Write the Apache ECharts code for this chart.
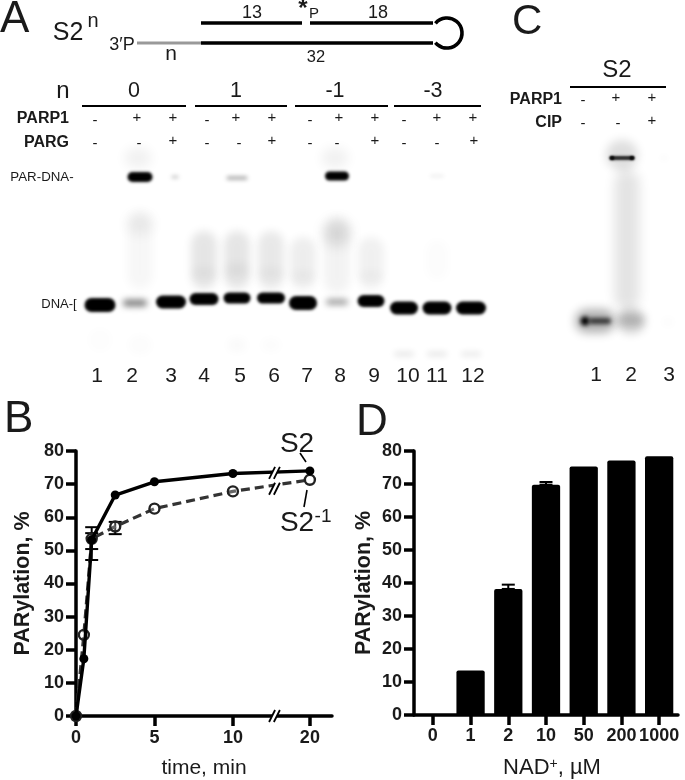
<!DOCTYPE html>
<html><head><meta charset="utf-8">
<style>html,body{margin:0;padding:0;background:#fff}#c{width:685px;height:780px}</style>
<script src="https://cdn.jsdelivr.net/npm/echarts@6/dist/echarts.min.js"></script>
</head><body><div id="c"></div>
<script>
// ---- Panel B data
const times = [0, 0.5, 1, 2.5, 5, 10, 20];
const s2Values = [0, 17.3, 53.2, 66.7, 70.7, 73.2, 74];
const s2m1Values = [0, 24.5, 53.5, 57.2, 62.6, 67.8, 71.3];
const errTimes = [1, 1, 2.5];
const errLow = [50.4, 47.1, 54.9];
const errHigh = [55.2, 57, 58.6];
const timeTicks = [0, 5, 10, 20];
const yTicks = [0, 10, 20, 30, 40, 50, 60, 70, 80];
// ---- Panel D data
const nadCategories = ['0', '1', '2', '10', '50', '200', '1000'];
const nadValues = [0, 13.5, 38.2, 69.8, 75.3, 77.1, 78.4];
const nadErrHigh = [null, null, 39.5, 70.6, null, null, null];
// ---- Panel A gel: lane labels, bands [pos, migration, width, height, density, blur]
const laneLabelsA = ['1','2','3','4','5','6','7','8','9','10','11','12'];
const laneLabelXA = [97,132,171,204,240,274,307,340,374,408,437,473];
const gelSmearA = [
 [140,250,25,78,.035,5],[140,224,25,20,.07,7],[138,158,27,20,.06,6],
 [204,260,26,58,.10,4],[204,273,24,10,.04,5],
 [237,260,26,58,.10,4],[237,270,24,14,.045,5],
 [271,260,26,58,.09,4],[271,273,24,10,.035,5],
 [303,263,26,52,.07,4],[303,276,22,10,.035,5],
 [337,255,26,76,.05,5],[337,233,26,26,.13,7],[335,158,27,20,.06,6],
 [371,263,26,52,.06,4],[371,276,22,10,.03,5],
 [437,260,22,40,.014,5],
 [140,345,24,20,.014,4],[237,345,20,14,.022,4],[271,345,20,14,.017,4],[100,340,24,24,.012,4],
 [404,354,20,3,.16,3],[437,354,20,3,.16,3],[471,354,20,3,.14,3]
];
const gelBandsA = [
 [100,305,31,14,1,1.5],[135,303,24,7,.5,3],[171,302,30,13,1,1.5],
 [204,299,29,12,1,1.5],[237,298,27,11,1,1.5],[271,298,28,11,1,1.5],
 [303,303,28,14,1,1.5],[337,302,22,6,.38,3],[371,301,27,12,1,1.5],
 [404,308,28,13,1,1.5],[437,308,29,13,1,1.5],[471,308,30,13,1,1.5],
 [140,177,25,10,1,1.5],[337,176,24,9,1,1.5],
 [175,177,7,2,.35,2],[237,178,21,3,.4,2],[437,176,14,2,.1,2]
];
// ---- Panel C gel
const laneLabelsC = ['1','2','3'];
const laneLabelXC = [596,631,669];
const gelSmearC = [
 [622,155,32,30,.13,5],[627,240,25,140,.11,6],[631,321,28,24,.2,5],
 [595,321,40,24,.3,5],[668,322,10,6,.03,4],[664,158,8,4,.03,3]
];
const gelBandsC = [
 [585,321,9,9,1,2],[600,321,22,6,.7,2],[622,158,25,4,.85,1.2],[612,158,5,4,.9,1],[632,158,5,4,.9,1],[631,320,24,8,.18,4]
];

const BLACK='#000', TXT='#1a1a1a', SANS='"Liberation Sans", Arial, sans-serif';
const els=[];
function t(x,y,s,size,o){o=o||{};els.push({type:'text',x,y,silent:true,style:{text:s,fill:o.fill||TXT,
  font:(o.bold?'bold ':'')+size+'px '+SANS,textAlign:o.align||'center',textVerticalAlign:'middle'}});}
function l(x1,y1,x2,y2,w,c){els.push({type:'line',silent:true,shape:{x1,y1,x2,y2},style:{stroke:c||BLACK,lineWidth:w}});}

// Panel letters
t(0,20,'A',44,{align:'left'}); t(4,420,'B',44,{align:'left'}); t(512,22,'C',42,{align:'left'}); t(356,423,'D',44,{align:'left'});
// Panel A schematic
t(68,33,'S2',25); t(93,21,'n',20);
l(201,23,302,23,3.6); l(310,23,433,23,3.6); l(137,43,201,43,3.2,'#999'); l(201,43,433,43,3.6);
els.push({type:'arc',silent:true,shape:{cx:447,cy:33,r:15,startAngle:-2.45,endAngle:2.45,clockwise:true},style:{stroke:BLACK,fill:null,lineWidth:3.6}});
t(252,13,'13',18); t(303,9,'*',24,{bold:true}); t(314,14,'P',15); t(378,13,'18',18); t(316,57,'32',16.5);
t(171,54,'n',21); t(122,45,"3\u2032P",18);
t(63,91,'n',24);
[[134,'0'],[236,'1'],[335,'-1'],[433,'-3']].forEach(a=>t(a[0],91,a[1],21.5));
l(82,106,186,106,2); l(195,106,287,106,2); l(295,106,388,106,2); l(394,106,481,106,2);
t(69,119,'PARP1',16,{bold:true,align:'right'}); t(69,143,'PARG',16,{bold:true,align:'right'});
const rowPx=[95,137,173,207,236,272,310,339,375,404,437,473];
const rowGx=[95,139,173,207,239,272,310,337,375,404,437,474];
['-','+','+','-','+','+','-','+','+','-','+','+'].forEach((s,i)=>t(rowPx[i],s=='+'?118:121,s,15));
['-','-','+','-','-','+','-','-','+','-','-','+'].forEach((s,i)=>t(rowGx[i],s=='+'?141:144,s,15));
t(42,177,'PAR-DNA-',13.3); t(59,304,'DNA-[',13);
// Panel C header
t(617,70,'S2',24); l(570,87,666,87,2);
t(562,100,'PARP1',16,{bold:true,align:'right'}); t(562,123,'CIP',16,{bold:true,align:'right'});
[[583,'-'],[616,'+'],[652,'+']].forEach(a=>t(a[0],a[1]=='+'?98:101,a[1],15));
[[583,'-'],[618,'-'],[652,'+']].forEach(a=>t(a[0],a[1]=='+'?121:124,a[1],15));
// Panel B annotations
t(297,444,'S2',28); l(300,453,306,462,1.6);
t(297,523,'S2',28); t(323,517,'-1',19); l(307,490,304,507,1.6);

const OFF=3000;
function gelRender(params,api){
  const p=api.coord([api.value(0),api.value(1)]);
  const w=api.value(2),h=api.value(3),o=api.value(4),b=api.value(5);
  const c='rgba(0,0,0,'+o+')';
  // only the soft shadow of the band shows: the shape itself sits off the canvas
  return {type:'rect',shape:{x:p[0]-w/2-OFF,y:p[1]-h/2,width:w,height:h,r:Math.min(w,h)/2},
    style:{fill:'#000',shadowBlur:b*2,shadowColor:c,shadowOffsetX:OFF,shadowOffsetY:0}};
}
function gelSeries(data,xi,z){return {type:'custom',xAxisIndex:xi,yAxisIndex:xi,data,renderItem:gelRender,clip:false,silent:true,z,animation:false};}
function errRender(params,api){
  const x=api.value(0),lo=api.coord([x,api.value(1)]),hi=api.coord([x,api.value(2)]);
  const cap=6.5,st={stroke:BLACK,lineWidth:2};
  return {type:'group',children:[
   {type:'line',shape:{x1:lo[0],y1:lo[1],x2:hi[0],y2:hi[1]},style:st},
   {type:'line',shape:{x1:lo[0]-cap,y1:lo[1],x2:lo[0]+cap,y2:lo[1]},style:st},
   {type:'line',shape:{x1:hi[0]-cap,y1:hi[1],x2:hi[0]+cap,y2:hi[1]},style:st}]};
}
function breakRender(params,api){
  const p=api.coord([api.value(0),api.value(1)]);
  const x=p[0],y=p[1],dx=3,dy=6,g=2.4;
  const st={stroke:BLACK,lineWidth:1.8};
  return {type:'group',children:[
   {type:'polygon',shape:{points:[[x-g-dx,y+dy],[x+g-dx,y+dy],[x+g+dx,y-dy],[x-g+dx,y-dy]]},style:{fill:'#fff'}},
   {type:'line',shape:{x1:x-g-dx,y1:y+dy,x2:x-g+dx,y2:y-dy},style:st},
   {type:'line',shape:{x1:x+g-dx,y1:y+dy,x2:x+g+dx,y2:y-dy},style:st}]};
}
const axisLine={show:true,onZero:false,lineStyle:{color:BLACK,width:3.5}};
const tick={show:true,length:10,lineStyle:{color:BLACK,width:3.5}};
const tickFont={color:TXT,fontFamily:SANS,fontWeight:'bold',fontSize:18};

const hiddenAxis=(gi,min,max,extra)=>Object.assign({type:'value',gridIndex:gi,min,max,axisLine:{show:false},axisTick:{show:false},splitLine:{show:false},axisLabel:{show:false}},extra||{});
const laneAxis=(gi,min,max,xs,labels)=>hiddenAxis(gi,min,max,{axisLabel:{show:true,customValues:xs,margin:3,color:TXT,fontFamily:SANS,fontSize:21,
   formatter:v=>labels[xs.indexOf(v)]}});

const option={
 backgroundColor:'#fff',animation:false,
 grid:[
  {left:80,top:150,width:412,height:213},
  {left:570,top:130,width:112,height:232},
  {left:76,top:451,width:256,height:266},
  {left:414,top:451,width:264,height:267}
 ],
 xAxis:[
  laneAxis(0,80,492,laneLabelXA,laneLabelsA),
  laneAxis(1,570,682,laneLabelXC,laneLabelsC),
  {type:'value',gridIndex:2,min:0,max:21.41,
   breaks:[{start:12.5,end:17.92,gap:'2%'}],breakArea:{show:false},breakLabelLayout:{moveOverlap:false},
   axisLine,axisTick:Object.assign({customValues:timeTicks},tick),splitLine:{show:false},
   axisLabel:Object.assign({customValues:timeTicks,margin:13},tickFont),
   name:'time, min',nameLocation:'middle',nameGap:42,nameTextStyle:{color:TXT,fontFamily:SANS,fontSize:21}},
  {type:'category',gridIndex:3,data:nadCategories,axisLine,axisTick:Object.assign({alignWithLabel:true},tick),
   splitLine:{show:false},axisLabel:Object.assign({margin:12,interval:0},tickFont),
   name:'{a|NAD}{s|+}{a|, \u00b5M}',nameLocation:'middle',nameGap:42,
   nameTextStyle:{padding:[0,0,0,12],rich:{a:{color:TXT,fontFamily:SANS,fontSize:22},s:{color:TXT,fontFamily:SANS,fontSize:14,verticalAlign:'top',padding:[0,0,8,0]}}}}
 ],
 yAxis:[
  hiddenAxis(0,150,363,{inverse:true}),
  hiddenAxis(1,130,362,{inverse:true}),
  {type:'value',gridIndex:2,min:0,max:80,interval:10,axisLine,axisTick:tick,splitLine:{show:false},
   axisLabel:Object.assign({margin:12,customValues:yTicks},tickFont),
   name:'PARylation, %',nameLocation:'middle',nameGap:42,nameTextStyle:{color:TXT,fontFamily:SANS,fontSize:21.5,fontWeight:'bold'}},
  {type:'value',gridIndex:3,min:0,max:80,interval:10,axisLine,axisTick:tick,splitLine:{show:false},
   axisLabel:Object.assign({margin:12,customValues:yTicks},tickFont),
   name:'PARylation, %',nameLocation:'middle',nameGap:39,nameTextStyle:{color:TXT,fontFamily:SANS,fontSize:21.5,fontWeight:'bold'}}
 ],
 series:[
  gelSeries(gelSmearA,0,1),gelSeries(gelBandsA,0,2),
  gelSeries(gelSmearC,1,1),gelSeries(gelBandsC,1,2),
  {type:'custom',name:'err',xAxisIndex:2,yAxisIndex:2,data:errTimes.map((x,i)=>[x,errLow[i],errHigh[i]]),renderItem:errRender,z:3,silent:true,clip:false},
  {type:'line',name:'S2-1',xAxisIndex:2,yAxisIndex:2,data:times.map((x,i)=>[x,s2m1Values[i]]),z:4,clip:false,
   lineStyle:{color:'#333',width:3.2,type:[9,5]},symbol:'circle',symbolSize:10,showAllSymbol:true,
   itemStyle:{color:'rgba(255,255,255,0.25)',borderColor:'#222',borderWidth:2.4}},
  {type:'line',name:'S2',xAxisIndex:2,yAxisIndex:2,data:times.map((x,i)=>[x,s2Values[i]]),z:5,clip:false,
   lineStyle:{color:BLACK,width:3.4},symbol:'circle',symbolSize:9,showAllSymbol:true,itemStyle:{color:BLACK}},
  {type:'custom',name:'breaks',xAxisIndex:2,yAxisIndex:2,data:[[15,0],[15,73.4],[15,68.6]],renderItem:breakRender,z:6,silent:true,clip:false},
  {type:'bar',xAxisIndex:3,yAxisIndex:3,data:nadValues,barWidth:'75%',itemStyle:{color:BLACK,borderRadius:[2,2,0,0]},z:2},
  {type:'custom',name:'nadErr',xAxisIndex:3,yAxisIndex:3,silent:true,z:3,
   data:nadErrHigh.map((h,i)=>h==null?null:[i,nadValues[i],h]).filter(Boolean),renderItem:errRender}
 ],
 graphic:{elements:els}
};
echarts.init(document.getElementById('c'),null,{renderer:'canvas'}).setOption(option);
</script></body></html>
